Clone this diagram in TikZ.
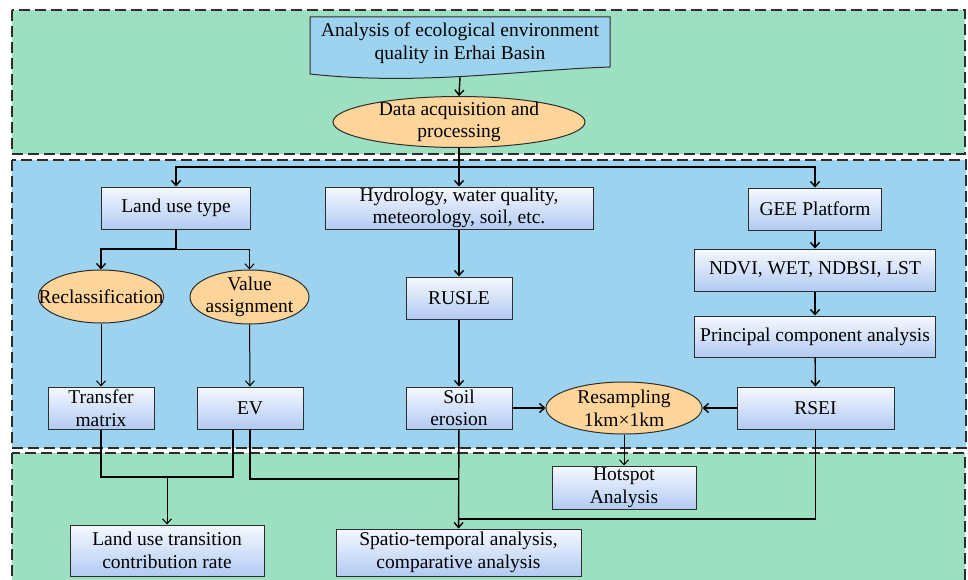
\documentclass[tikz,border=0pt]{standalone}
\usepackage{fontspec}
\setmainfont{Liberation Serif}
\usepackage{tikz}
\usetikzlibrary{arrows.meta, shapes.geometric}

\definecolor{panelgreen}{RGB}{156,223,193}
\definecolor{panelblue}{RGB}{157,211,238}
\definecolor{ovalfill}{RGB}{253,212,154}
\definecolor{boxtop}{RGB}{245,248,254}
\definecolor{boxbot}{RGB}{178,203,242}
\definecolor{edgegray}{RGB}{45,45,45}

\begin{document}
\begin{tikzpicture}[x=1pt, y=1pt, font=\fontsize{19.5}{22.5}\selectfont,
  panel/.style={draw=edgegray, line width=1.6pt, dash pattern=on 11pt off 5pt},
  bx/.style={draw=edgegray, line width=1pt, top color=boxtop, bottom color=boxbot,
             align=center, inner sep=0pt},
  ov/.style={ellipse, draw=edgegray, line width=1pt, fill=ovalfill, inner sep=0pt},
  arr/.style={-{Straight Barb[length=5pt, width=9pt]}, line width=1.4pt},
  tarr/.style={arr, line width=1pt},
  ln/.style={line width=1.4pt},
  tln/.style={line width=1.1pt}
]
\useasboundingbox (0,0) rectangle (968,-580);

\filldraw[panel, fill=panelgreen] (12,-10)  rectangle (965,-154);
\filldraw[panel, fill=panelblue]  (12,-160) rectangle (966,-448);
\filldraw[panel, fill=panelgreen] (12,-453) rectangle (965,-600);

\filldraw[draw=edgegray, line width=1pt, fill=panelblue]
  (310,-17) -- (610,-17) -- (610,-67) .. controls (520,-70) and (420,-86) .. (310,-74) -- cycle;
\node[align=center, minimum width=300, minimum height=50] (title) at (460,-43)
  {Analysis of ecological environment\\quality in Erhai Basin};

\node[ov, minimum width=252, minimum height=51,
      label={[align=center]center:Data acquisition and\\processing}] (data) at (459,-122) {};

\node[bx, minimum width=149, minimum height=42] (landuse) at (176,-208) {Land use type};
\node[bx, minimum width=268, minimum height=42] (hydro) at (459,-208)
  {Hydrology, water quality,\\meteorology, soil, etc.};
\node[bx, minimum width=133, minimum height=42] (gee) at (815,-209) {GEE Platform};
\node[bx, minimum width=241, minimum height=42] (ndvi) at (815,-270) {NDVI, WET, NDBSI, LST};
\node[bx, minimum width=241, minimum height=41] (pca) at (815,-336.5) {Principal component analysis};

\node[ov, minimum width=125, minimum height=53,
      label={center:Reclassification}] (reclass) at (101,-296.5) {};
\node[ov, minimum width=119, minimum height=54,
      label={[align=center]center:Value\\assignment}] (value) at (249.5,-297) {};
\node[bx, minimum width=106, minimum height=42] (rusle) at (459,-298) {RUSLE};

\node[bx, minimum width=106, minimum height=42] (transfer) at (101,-408) {Transfer\\matrix};
\node[bx, minimum width=106, minimum height=42] (ev) at (250,-408) {EV};
\node[bx, minimum width=106, minimum height=42] (soil) at (459,-408) {Soil\\erosion};
\node[ov, minimum width=156, minimum height=52,
      label={[align=center]center:Resampling\\1km×1km}] (resamp) at (624,-408) {};
\node[bx, minimum width=157, minimum height=42] (rsei) at (815.5,-408) {RSEI};

\node[bx, minimum width=144, minimum height=43] (hotspot) at (624,-487.5) {Hotspot\\Analysis};
\node[bx, minimum width=194, minimum height=51] (lutcr) at (167,-550.5)
  {Land use transition\\contribution rate};
\node[bx, minimum width=245, minimum height=47] (spatio) at (458.5,-552.5)
  {Spatio-temporal analysis,\\comparative analysis};

\coordinate (dsplit) at (459,-167);
\coordinate (lsplit) at (176,-249);
\coordinate (tmjoin) at (167,-477);
\coordinate (evjoin) at (459,-479);
\coordinate (rsjoin) at (459,-519);

\draw[arr] ([yshift=-9pt]title.south) -- (data.north);
\draw[ln] (data.south) -- (dsplit);
\draw[arr] (dsplit) -| (landuse.north);
\draw[arr] (dsplit) -- (hydro.north);
\draw[arr] (dsplit) -| (gee.north);

\draw[ln] (landuse.south) -- (lsplit);
\draw[arr] (lsplit) -| (reclass.north);
\draw[tarr] (lsplit) -| (value.north);
\draw[tarr] (reclass) -- (transfer);
\draw[tarr] (value) -- (ev);

\foreach \a/\b in {hydro/rusle, rusle/soil, gee/ndvi, ndvi/pca, pca/rsei, soil/spatio}
  \draw[arr] (\a) -- (\b);
\draw[arr] (soil.east) -- (resamp.west);
\draw[arr] (rsei.west) -- (resamp.east);
\draw[tarr] (resamp.south) -- (hotspot.north);

\draw[tln] (transfer.south) |- (tmjoin) -| ([xshift=-17pt]ev.south);
\draw[tarr] (tmjoin) -- (lutcr.north);
\draw[ln] (ev.south) |- (evjoin);
\draw[ln] (rsei.south) |- (rsjoin);
\end{tikzpicture}
\end{document}
